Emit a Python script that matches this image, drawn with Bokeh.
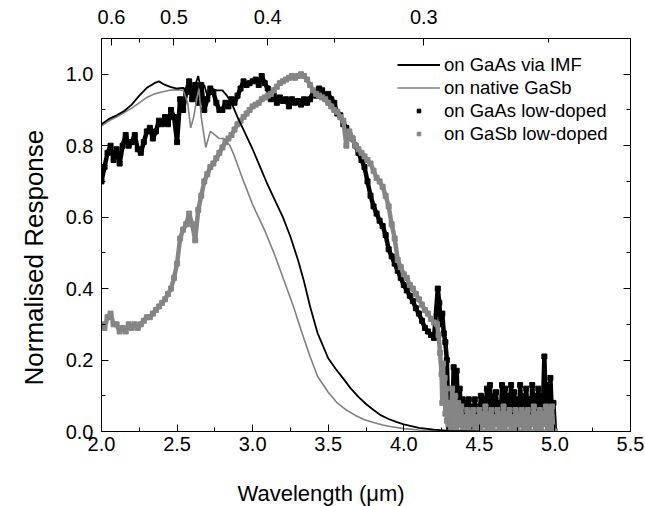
from bokeh.plotting import figure
from bokeh.models import (Range1d, LinearAxis, FixedTicker, Title,
                          CustomJSTickFormatter, PrintfTickFormatter, Legend, LegendItem)
from bokeh.embed import file_html
from bokeh.resources import INLINE

FONT = "Liberation Sans"

# ---------------- data ----------------
# on GaAs via IMF (thin black line)
imf_x = [2.00, 2.05, 2.10, 2.15, 2.20, 2.25, 2.30, 2.35, 2.38, 2.42, 2.46, 2.50, 2.54, 2.57,
         2.60, 2.62, 2.64, 2.66, 2.68, 2.70, 2.73, 2.76, 2.80, 2.83, 2.86, 2.90, 2.95, 3.00,
         3.05, 3.10, 3.15, 3.20, 3.25, 3.30, 3.34, 3.38, 3.43, 3.45, 3.50, 3.55, 3.60, 3.65,
         3.70, 3.75, 3.80, 3.85, 3.90, 3.95, 4.00, 4.10, 4.20, 4.30, 4.40, 4.50]
imf_y = [0.860, 0.875, 0.885, 0.897, 0.915, 0.940, 0.962, 0.975, 0.980, 0.970, 0.964, 0.960, 0.962, 0.955,
         0.940, 0.970, 0.995, 0.950, 0.970, 0.940, 0.960, 0.955, 0.955, 0.940, 0.920, 0.880, 0.835, 0.790,
         0.740, 0.690, 0.645, 0.600, 0.545, 0.480, 0.420, 0.350, 0.275, 0.255, 0.205, 0.175, 0.148, 0.120,
         0.097, 0.077, 0.060, 0.045, 0.035, 0.027, 0.020, 0.010, 0.005, 0.002, 0.001, 0.000]

# on native GaSb (thin grey line)
nat_x = [2.00, 2.05, 2.10, 2.15, 2.20, 2.25, 2.30, 2.35, 2.40, 2.45, 2.50, 2.54, 2.57, 2.59,
         2.61, 2.63, 2.645, 2.66, 2.69, 2.72, 2.75, 2.78, 2.81, 2.85, 2.88, 2.94, 3.00, 3.08,
         3.15, 3.21, 3.27, 3.32, 3.38, 3.43, 3.50, 3.56, 3.62, 3.68, 3.74, 3.80, 3.86, 3.91,
         4.00, 4.10, 4.20, 4.30]
nat_y = [0.855, 0.870, 0.880, 0.893, 0.905, 0.920, 0.935, 0.945, 0.950, 0.955, 0.957, 0.955, 0.920, 0.850,
         0.880, 0.930, 0.960, 0.880, 0.795, 0.840, 0.830, 0.820, 0.820, 0.800, 0.770, 0.700, 0.635, 0.563,
         0.490, 0.420, 0.350, 0.284, 0.210, 0.154, 0.110, 0.080, 0.060, 0.045, 0.033, 0.025, 0.018, 0.014,
         0.008, 0.004, 0.002, 0.001]

# on GaAs low-doped (black points): 2.00 .. 4.20 every 0.02 um
gaas_main_y = [0.70, 0.74, 0.78, 0.80, 0.76, 0.79, 0.75, 0.80, 0.83, 0.80,
               0.81, 0.83, 0.79, 0.78, 0.81, 0.84, 0.85, 0.82, 0.84, 0.87,
               0.86, 0.88, 0.86, 0.90, 0.88, 0.81, 0.93, 0.90, 0.95, 0.98,
               0.93, 0.97, 0.92, 0.97, 0.90, 0.93, 0.96, 0.95, 0.92, 0.90,
               0.90, 0.92, 0.91, 0.93, 0.92, 0.94, 0.96, 0.98, 0.97, 0.975,
               0.98, 0.985, 0.97, 0.995, 0.975, 0.96, 0.93, 0.94, 0.92, 0.935,
               0.925, 0.93, 0.91, 0.93, 0.92, 0.925, 0.915, 0.93, 0.92, 0.93,
               0.95, 0.94, 0.96, 0.955, 0.94, 0.945, 0.93, 0.92, 0.89, 0.885,
               0.86, 0.85, 0.83, 0.82, 0.80, 0.78, 0.76, 0.74, 0.70, 0.66,
               0.63, 0.61, 0.59, 0.575, 0.55, 0.51, 0.49, 0.47, 0.45, 0.43,
               0.41, 0.395, 0.38, 0.365, 0.345, 0.33, 0.31, 0.29, 0.28, 0.27,
               0.262]
gaas_edge_x = [4.225, 4.235, 4.245, 4.255, 4.265, 4.275, 4.285, 4.29, 4.295]
gaas_edge_y = [0.40, 0.36, 0.30, 0.33, 0.275, 0.25, 0.20, 0.12, 0.04]
# 4.30 .. 5.00 every 0.01 um
gaas_tail_y = [0.01, 0.10, 0.02, 0.18, 0.05, 0.17, 0.03, 0.12, 0.02, 0.09,
               0.03, 0.08, 0.02, 0.09, 0.03, 0.07, 0.01, 0.09, 0.02, 0.07,
               0.03, 0.10, 0.02, 0.09, 0.04, 0.12, 0.02, 0.13, 0.05, 0.10,
               0.03, 0.11, 0.04, 0.08, 0.02, 0.13, 0.05, 0.12, 0.03, 0.10,
               0.05, 0.13, 0.03, 0.11, 0.05, 0.09, 0.02, 0.13, 0.04, 0.10,
               0.03, 0.12, 0.05, 0.09, 0.03, 0.13, 0.06, 0.10, 0.03, 0.12,
               0.05, 0.10, 0.06, 0.21, 0.07, 0.13, 0.04, 0.15, 0.05, 0.08,
               0.00]

# on GaSb low-doped (grey points): 2.00 .. 4.22 every 0.02 um
gasb_main_y = [0.30, 0.29, 0.32, 0.33, 0.30, 0.30, 0.28, 0.29, 0.28, 0.30,
               0.29, 0.30, 0.29, 0.30, 0.31, 0.32, 0.32, 0.33, 0.34, 0.35,
               0.36, 0.37, 0.385, 0.40, 0.43, 0.47, 0.54, 0.565, 0.58, 0.61,
               0.58, 0.535, 0.62, 0.66, 0.70, 0.72, 0.74, 0.75, 0.765, 0.78,
               0.795, 0.81, 0.82, 0.83, 0.845, 0.86, 0.87, 0.88, 0.89, 0.90,
               0.91, 0.915, 0.92, 0.93, 0.935, 0.94, 0.945, 0.955, 0.965, 0.975,
               0.98, 0.985, 0.99, 0.995, 0.99, 0.995, 1.00, 0.995, 0.985, 0.97,
               0.955, 0.945, 0.94, 0.935, 0.93, 0.92, 0.91, 0.90, 0.895, 0.88,
               0.87, 0.80, 0.84, 0.82, 0.80, 0.79, 0.78, 0.77, 0.76, 0.75,
               0.73, 0.71, 0.70, 0.685, 0.66, 0.63, 0.58, 0.54, 0.48, 0.46,
               0.44, 0.43, 0.41, 0.40, 0.385, 0.37, 0.355, 0.34, 0.33, 0.315,
               0.305, 0.30]
gasb_edge_x = [4.23, 4.24, 4.25, 4.255, 4.26, 4.265, 4.27, 4.275, 4.28, 4.285, 4.29, 4.295]
gasb_edge_y = [0.27, 0.22, 0.16, 0.08, 0.19, 0.10, 0.15, 0.05, 0.12, 0.03, 0.08, 0.02]
# 4.30 .. 5.00 every 0.01 um
gasb_tail_y = [0.05, 0.00, 0.12, 0.01, 0.10, 0.00, 0.08, 0.02, 0.07, 0.00,
               0.04, 0.01, 0.06, 0.00, 0.05, 0.02, 0.06, 0.00, 0.04, 0.01,
               0.06, 0.00, 0.05, 0.02, 0.07, 0.00, 0.05, 0.01, 0.06, 0.00,
               0.04, 0.02, 0.06, 0.00, 0.05, 0.01, 0.07, 0.00, 0.05, 0.02,
               0.06, 0.00, 0.04, 0.01, 0.06, 0.00, 0.05, 0.02, 0.06, 0.00,
               0.05, 0.01, 0.06, 0.00, 0.04, 0.02, 0.07, 0.00, 0.05, 0.01,
               0.06, 0.00, 0.05, 0.02, 0.07, 0.00, 0.06, 0.01, 0.07, 0.00,
               0.00]

# top axis: photon energy (eV)
energy_major = [0.6, 0.5, 0.4, 0.3]
energy_minor = [0.55, 0.45, 0.35, 0.25]
HC = 1.2398  # eV*um

x_ticks = [2.0, 2.5, 3.0, 3.5, 4.0, 4.5, 5.0, 5.5]
x_minor = [2.25, 2.75, 3.25, 3.75, 4.25, 4.75, 5.25]
y_ticks = [0.0, 0.2, 0.4, 0.6, 0.8, 1.0]
y_minor = [0.1, 0.3, 0.5, 0.7, 0.9]

# ---------------- assemble series ----------------
gaas_x = [round(2.0 + 0.02 * i, 3) for i in range(len(gaas_main_y))] + gaas_edge_x + \
         [round(4.30 + 0.01 * i, 3) for i in range(len(gaas_tail_y))]
gaas_y = gaas_main_y + gaas_edge_y + gaas_tail_y
gasb_x = [round(2.0 + 0.02 * i, 3) for i in range(len(gasb_main_y))] + gasb_edge_x + \
         [round(4.30 + 0.01 * i, 3) for i in range(len(gasb_tail_y))]
gasb_y = gasb_main_y + gasb_edge_y + gasb_tail_y

# ---------------- figure ----------------
p = figure(width=645, height=506, output_backend="svg", toolbar_location=None,
           x_range=Range1d(2.0, 5.5), y_range=Range1d(0.0, 1.1),
           min_border_left=101, min_border_right=15, min_border_top=38, min_border_bottom=75)
p.grid.visible = False
p.outline_line_color = "black"
p.outline_line_width = 1
p.background_fill_color = "white"
p.border_fill_color = "white"


def style_axis(ax):
    ax.axis_line_color = "black"
    ax.axis_line_width = 1
    ax.major_tick_in = 7
    ax.major_tick_out = 0
    ax.minor_tick_in = 4
    ax.minor_tick_out = 0
    ax.major_tick_line_color = "black"
    ax.minor_tick_line_color = "black"
    ax.major_label_text_font = FONT
    ax.major_label_text_font_size = "20px"
    ax.major_label_text_color = "black"


xa = p.xaxis[0]
xa.ticker = FixedTicker(ticks=x_ticks, minor_ticks=x_minor)
xa.formatter = PrintfTickFormatter(format="%.1f")
style_axis(xa)
xa.major_label_standoff = 5

ya = p.yaxis[0]
ya.ticker = FixedTicker(ticks=y_ticks, minor_ticks=y_minor)
ya.formatter = PrintfTickFormatter(format="%.1f")
style_axis(ya)
ya.major_label_standoff = 8

top = LinearAxis(ticker=FixedTicker(ticks=[HC / e for e in energy_major],
                                    minor_ticks=[HC / e for e in energy_minor]),
                 formatter=CustomJSTickFormatter(code="return (%f / tick).toFixed(1);" % HC))
style_axis(top)
top.major_label_standoff = 15
p.add_layout(top, "above")

right = LinearAxis(ticker=FixedTicker(ticks=y_ticks, minor_ticks=y_minor),
                   formatter=CustomJSTickFormatter(code="return '';"))
style_axis(right)
right.major_label_standoff = 0
p.add_layout(right, "right")

# axis titles as side-panel titles (offset along the frame edge)
p.add_layout(Title(text="\nWavelength (μm)", align="left", offset=136, standoff=0,
                   text_font=FONT, text_font_size="22px", text_font_style="normal",
                   text_line_height=1.0, text_color="black"), "below")
p.add_layout(Title(text="Normalised Response", align="left", offset=46, standoff=28,
                   text_font=FONT, text_font_size="26px", text_font_style="normal",
                   text_color="black"), "left")

# data renderers
BLACK = "#000000"
GREY = "#858585"

p.line(gaas_x, gaas_y, line_color=BLACK, line_width=4.5)
gaas_pts = p.scatter(gaas_x, gaas_y, marker="square", size=5, fill_color=BLACK, line_color=BLACK)
p.line(gasb_x, gasb_y, line_color=GREY, line_width=4.5)
gasb_pts = p.scatter(gasb_x, gasb_y, marker="square", size=5, fill_color=GREY, line_color=GREY)
nat_r = p.line(nat_x, nat_y, line_color="#808080", line_width=1.6)
imf_r = p.line(imf_x, imf_y, line_color=BLACK, line_width=1.8)

legend = Legend(items=[
    LegendItem(label="on GaAs via IMF", renderers=[imf_r]),
    LegendItem(label="on native GaSb", renderers=[nat_r]),
    LegendItem(label="on GaAs low-doped", renderers=[gaas_pts]),
    LegendItem(label="on GaSb low-doped", renderers=[gasb_pts]),
], location=(296, 286))
legend.border_line_alpha = 0
legend.background_fill_alpha = 0
legend.padding = 0
legend.margin = 0
legend.spacing = 0
legend.glyph_width = 43
legend.glyph_height = 9
legend.label_height = 23
legend.label_standoff = 4
legend.label_text_font = FONT
legend.label_text_font_size = "18.5px"
legend.label_text_color = "black"
p.add_layout(legend)

open("out.html", "w").write(file_html(p, INLINE))
